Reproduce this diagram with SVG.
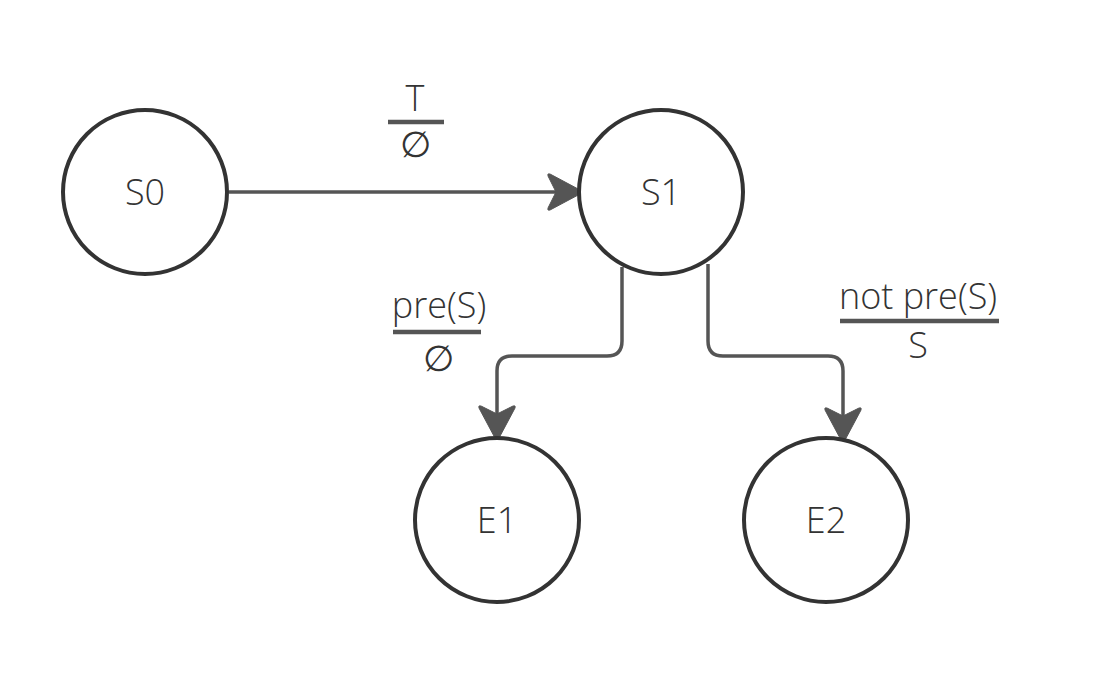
<svg xmlns="http://www.w3.org/2000/svg" width="1098" height="679" viewBox="0 0 1098 679">
<defs>
<style>
.node{fill:#fff;stroke:#333;stroke-width:4}
.lbl{font-family:"Open Sans","Liberation Sans",sans-serif;font-weight:300;font-size:36px;fill:#333;text-anchor:middle}
.edge{fill:none;stroke:#555;stroke-width:3.5}
.bar{stroke:#555;stroke-width:4.5}
</style>
<marker id="arr" viewBox="0 0 36 38" refX="34" refY="19" markerWidth="36" markerHeight="38" markerUnits="userSpaceOnUse" orient="auto">
<path d="M2,3 Q1,0 4,1 L34,17 Q36,19 34,21 L4,37 Q1,38 2,35 L10,19 Z" fill="#555" stroke="#555" stroke-width="1" stroke-linejoin="round"/>
</marker>
</defs>
<rect width="1098" height="679" fill="#fff"/>
<g id="connectors">
<path class="edge" d="M229,192 L580,192" marker-end="url(#arr)"/>
<path class="edge" d="M622,267 L622,341 Q622,356 607,356 L512,356 Q497,356 497,371 L497,438" marker-end="url(#arr)"/>
<path class="edge" d="M708,264 L708,341 Q708,356 723,356 L828,356 Q843,356 843,371 L843,440" marker-end="url(#arr)"/>
</g>
<g id="label-T">
<text class="lbl" x="415" y="111">T</text>
<line class="bar" x1="388" y1="122" x2="444" y2="122"/>
<text class="lbl" x="415" y="157">∅</text>
</g>
<g id="label-pre">
<text class="lbl" x="439" y="318">pre(S)</text>
<line class="bar" x1="393" y1="332" x2="481" y2="332"/>
<text class="lbl" x="438" y="371">∅</text>
</g>
<g id="label-notpre">
<text class="lbl" x="918" y="309">not pre(S)</text>
<line class="bar" x1="840" y1="321" x2="999" y2="321"/>
<text class="lbl" x="918" y="358">S</text>
</g>
<g id="S0"><circle class="node" cx="145" cy="192" r="82"/><text class="lbl" x="145" y="205">S0</text></g>
<g id="S1"><circle class="node" cx="661" cy="192" r="82"/><text class="lbl" x="661" y="205">S1</text></g>
<g id="E1"><circle class="node" cx="497" cy="520" r="82"/><text class="lbl" x="497" y="533">E1</text></g>
<g id="E2"><circle class="node" cx="826" cy="520" r="82"/><text class="lbl" x="826" y="533">E2</text></g>
</svg>
